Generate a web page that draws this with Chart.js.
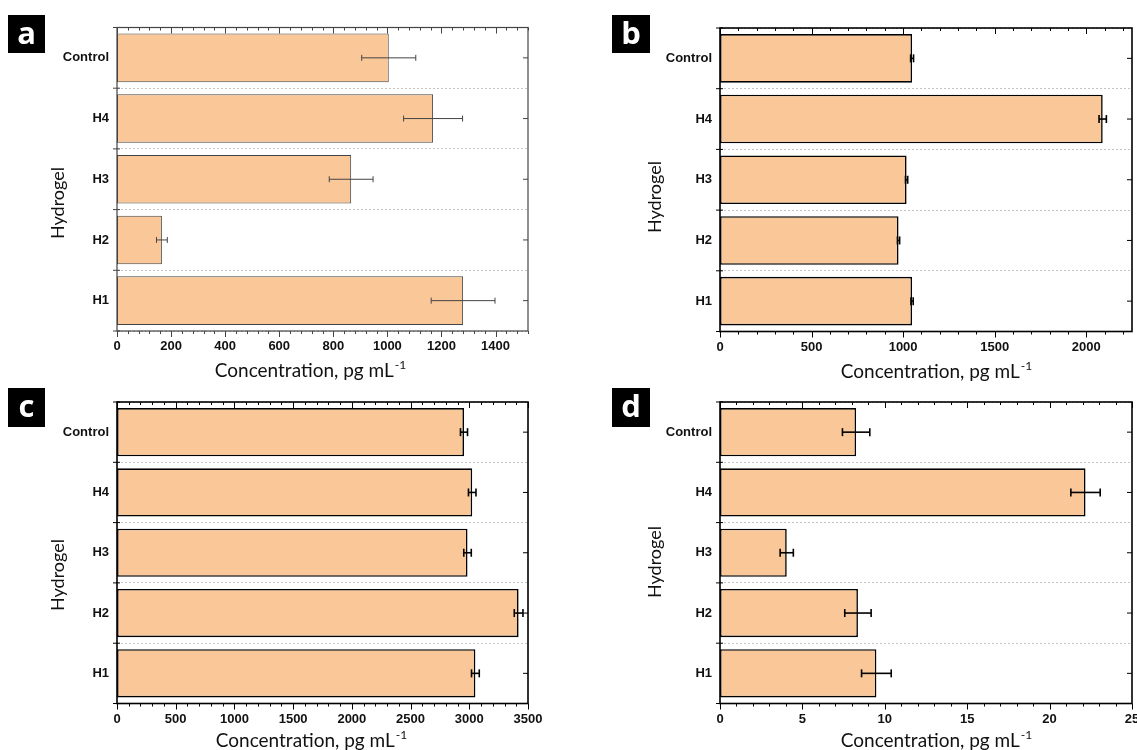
<!DOCTYPE html>
<html>
<head>
<meta charset="utf-8">
<script src="https://cdn.jsdelivr.net/npm/chart.js@4.4.1/dist/chart.umd.min.js"></script>
<style>
  html, body { margin: 0; padding: 0; background: #fff; overflow: hidden; }
  body { width: 1137px; height: 750px; position: relative; }
  .panel { position: absolute; }
  .tag {
    position: absolute; background: #000; color: #fff;
    font-family: 'Open Sans', sans-serif; font-weight: bold; font-size: 31px;
    display: flex; align-items: center; justify-content: center; line-height: 1;
  }
</style>
</head>
<body>
<div class="panel" style="left:0;top:0"><canvas id="chartA" width="600" height="400"></canvas></div>
<div class="panel" style="left:568px;top:0"><canvas id="chartB" width="600" height="400"></canvas></div>
<div class="panel" style="left:0;top:375px"><canvas id="chartC" width="600" height="400"></canvas></div>
<div class="panel" style="left:568px;top:375px"><canvas id="chartD" width="600" height="400"></canvas></div>
<div class="tag" style="left:8px;top:15px;width:37px;height:38px;padding-bottom:4px;box-sizing:border-box">a</div>
<div class="tag" style="left:612px;top:15px;width:38px;height:38px;padding-bottom:4px;box-sizing:border-box">b</div>
<div class="tag" style="left:8px;top:388px;width:37px;height:39px;padding-bottom:4px;box-sizing:border-box">c</div>
<div class="tag" style="left:612px;top:388px;width:38px;height:39px;padding-bottom:4px;box-sizing:border-box">d</div>

<script>
// Data
const categories = ['Control', 'H4', 'H3', 'H2', 'H1'];

const valuesA = [1005, 1169, 866, 166, 1280];
const errorsA = [100, 109, 81, 20, 118];
const ticksA = [0, 200, 400, 600, 800, 1000, 1200, 1400];

const valuesB = [1049, 2090, 1019, 975, 1049];
const errorsB = [8, 20, 6, 6, 6];
const ticksB = [0, 500, 1000, 1500, 2000];

const valuesC = [2955, 3025, 2985, 3420, 3052];
const errorsC = [30, 32, 32, 37, 33];
const ticksC = [0, 500, 1000, 1500, 2000, 2500, 3000, 3500];

const valuesD = [8.26, 22.18, 4.05, 8.37, 9.49];
const errorsD = [0.83, 0.89, 0.4, 0.8, 0.9];
const ticksD = [0, 5, 10, 15, 20, 25];

const xTitle = 'Concentration, pg mL';
const xTitleSup = '-1';
const yTitle = 'Hydrogel';

const barFill = 'rgb(250,200,152)';
const W = 600, H = 400, PANEL_H = 375;

function line(ctx, x1, y1, x2, y2) {
  ctx.beginPath();
  ctx.moveTo(x1, y1);
  ctx.lineTo(x2, y2);
  ctx.stroke();
}

// Error bars, frame, tick marks and axis titles
const decorPlugin = {
  id: 'decor',
  afterDatasetsDraw(chart, args, o) {
    const ctx = chart.ctx;
    const xs = chart.scales.x;
    const meta = chart.getDatasetMeta(0);
    ctx.save();
    ctx.strokeStyle = o.color;
    ctx.lineWidth = o.errWidth;
    meta.data.forEach((bar, i) => {
      const v = o.values[i], e = o.errors[i];
      const lo = xs.getPixelForValue(v - e);
      const hi = xs.getPixelForValue(v + e);
      const y = bar.y;
      line(ctx, lo, y, hi, y);
      line(ctx, lo, y - o.cap, lo, y + o.cap);
      line(ctx, hi, y - o.cap, hi, y + o.cap);
    });
    ctx.restore();
  },
  afterDraw(chart, args, o) {
    const ctx = chart.ctx;
    const { left, right, top, bottom } = chart.chartArea;
    const xs = chart.scales.x, ys = chart.scales.y;
    ctx.save();
    ctx.strokeStyle = o.color;
    ctx.lineWidth = o.frameWidth;
    ctx.strokeRect(left, top, right - left, bottom - top);

    // x ticks top (inward) and bottom (outward), 4 minor between majors
    ctx.lineWidth = 1;
    const minor = o.major / 5;
    for (let k = 0; k * minor <= xs.max + 1e-9; k++) {
      const px = Math.round(xs.getPixelForValue(k * minor)) + 0.5;
      const len = k % 5 === 0 ? 6 : 3;
      line(ctx, px, bottom, px, bottom + len);
      line(ctx, px, top, px, top + len);
    }

    // y ticks: boundaries on the left, centres on the right
    const band = ys.getPixelForValue(1) - ys.getPixelForValue(0);
    categories.forEach((c, i) => {
      const py = ys.getPixelForValue(i);
      line(ctx, right - 5, py, right, py);
      line(ctx, left - 4, py - band / 2, left + 3, py - band / 2);
    });
    line(ctx, left - 4, bottom, left + 3, bottom);

    // axis titles
    ctx.fillStyle = '#111';
    ctx.font = '19px Lato';
    const w1 = ctx.measureText(xTitle).width;
    ctx.font = '12px Lato';
    const w2 = ctx.measureText(xTitleSup).width;
    const x0 = o.xTitleX - (w1 + w2) / 2;
    ctx.textBaseline = 'alphabetic';
    ctx.textAlign = 'left';
    ctx.font = '19px Lato';
    ctx.fillText(xTitle, x0, o.xTitleY);
    ctx.font = '12px Lato';
    ctx.fillText(xTitleSup, x0 + w1 + 1, o.xTitleY - 8);

    ctx.translate(o.yTitleX, o.yTitleY);
    ctx.rotate(-Math.PI / 2);
    ctx.font = '18px Lato';
    ctx.textAlign = 'center';
    ctx.textBaseline = 'middle';
    ctx.fillText(yTitle, 0, 0);
    ctx.restore();
  }
};

function makeChart(id, p) {
  const ctx = document.getElementById(id).getContext('2d');
  const tickFont = { family: 'Liberation Sans', weight: 'bold', size: 13 };
  return new Chart(ctx, {
    type: 'bar',
    data: {
      labels: categories,
      datasets: [{
        data: p.values,
        backgroundColor: barFill,
        borderColor: p.color,
        borderWidth: p.barBorder,
        borderSkipped: false,
        barPercentage: 0.8,
        categoryPercentage: 1
      }]
    },
    options: {
      indexAxis: 'y',
      responsive: false,
      animation: false,
      layout: { padding: { left: 0, top: p.area.top, right: W - p.area.right, bottom: H - PANEL_H } },
      plugins: {
        legend: { display: false },
        tooltip: { enabled: false },
        decor: {
          values: p.values, errors: p.errors, color: p.color,
          errWidth: p.errWidth, cap: p.cap, frameWidth: p.frameWidth,
          major: p.ticks[1] - p.ticks[0],
          xTitleX: p.xTitleX, xTitleY: p.xTitleY,
          yTitleX: p.yTitleX, yTitleY: p.yTitleY
        }
      },
      scales: {
        x: {
          min: 0,
          max: p.max,
          border: { display: false },
          grid: { display: false, drawTicks: false },
          ticks: { padding: 8, color: '#111', font: tickFont, maxRotation: 0, autoSkip: false, callback: v => String(v) },
          afterBuildTicks: s => { s.ticks = p.ticks.map(v => ({ value: v })); },
          afterFit: s => { s.height = PANEL_H - p.area.bottom; }
        },
        y: {
          border: { display: false, dash: [2, 2] },
          grid: { offset: true, drawTicks: false, color: '#c4c4c4', lineWidth: 1 },
          ticks: { padding: 8, color: '#111', font: tickFont },
          afterFit: s => { s.width = p.area.left; }
        }
      }
    },
    plugins: [decorPlugin]
  });
}

const thin = { color: '#444', barBorder: 1, errWidth: 1, cap: 3, frameWidth: 1.2 };
const bold = { color: '#000', barBorder: 1.6, errWidth: 1.6, cap: 4, frameWidth: 1.6 };

makeChart('chartA', Object.assign({
  values: valuesA, errors: errorsA, ticks: ticksA, max: 1520,
  area: { left: 117, top: 27.5, right: 528, bottom: 331 },
  xTitleX: 310, xTitleY: 377, yTitleX: 58, yTitleY: 203
}, thin));

makeChart('chartB', Object.assign({
  values: valuesB, errors: errorsB, ticks: ticksB, max: 2250,
  area: { left: 152, top: 28, right: 564, bottom: 331.5 },
  xTitleX: 368, xTitleY: 378, yTitleX: 87, yTitleY: 197
}, bold));

makeChart('chartC', Object.assign({
  values: valuesC, errors: errorsC, ticks: ticksC, max: 3500,
  area: { left: 117, top: 27, right: 528, bottom: 328.5 },
  xTitleX: 311, xTitleY: 372, yTitleX: 58, yTitleY: 200
}, bold));

makeChart('chartD', Object.assign({
  values: valuesD, errors: errorsD, ticks: ticksD, max: 25,
  area: { left: 152, top: 27, right: 564, bottom: 328.5 },
  xTitleX: 368, xTitleY: 372, yTitleX: 87, yTitleY: 187
}, bold));
</script>
</body>
</html>
